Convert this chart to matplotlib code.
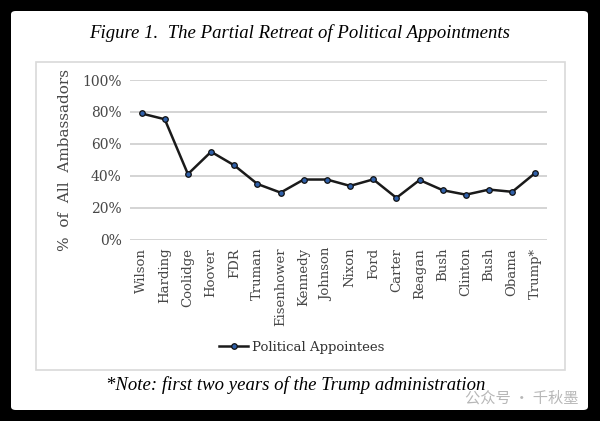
#!/usr/bin/env python3

# figure 1: share of political appointees among US ambassadors, by president

import matplotlib.pyplot as plt
from matplotlib.patches import FancyBboxPatch, Rectangle

# data
presidents = ['Wilson', 'Harding', 'Coolidge', 'Hoover', 'FDR', 'Truman',
              'Eisenhower', 'Kennedy', 'Johnson', 'Nixon', 'Ford', 'Carter',
              'Reagan', 'Bush', 'Clinton', 'Bush', 'Obama', 'Trump*']
political_share = [0.79, 0.754, 0.41, 0.55, 0.465, 0.348, 0.294, 0.376,
                   0.376, 0.336, 0.377, 0.261, 0.373, 0.309, 0.281, 0.313,
                   0.299, 0.418]
yticks = [0, 0.2, 0.4, 0.6, 0.8, 1.0]
ytick_labels = ['0%', '20%', '40%', '60%', '80%', '100%']

W, H = 600, 421
SERIF = 'DejaVu Serif'
TIMES = 'Liberation Serif'
GRAY = '#474747'

fig = plt.figure(figsize=(6, 4.21), dpi=100, facecolor='black')

def px(x, y):
    # pixel from top-left -> figure fraction
    return x / W, 1 - y / H

# white page with rounded corners
x0, y0 = px(11, 410)
x1, y1 = px(588, 11)
fig.patches.append(FancyBboxPatch((x0, y0), x1 - x0, y1 - y0,
                                  boxstyle='round,pad=0,rounding_size=0.008',
                                  transform=fig.transFigure, facecolor='white',
                                  edgecolor='none', zorder=-2))

# chart box
bx0, by0 = px(36, 370)
bx1, by1 = px(565, 62)
fig.patches.append(Rectangle((bx0, by0), bx1 - bx0, by1 - by0,
                             transform=fig.transFigure, facecolor='white',
                             edgecolor='#d9d9d9', linewidth=1.2, zorder=-1))

# plot area
ax_l, ax_b = px(130, 239.5)
ax_r, ax_t = px(547, 80)
ax = fig.add_axes([ax_l, ax_b, ax_r - ax_l, ax_t - ax_b])
ax.set_zorder(5)
ax.set_facecolor('none')

x = list(range(len(presidents)))
line, = ax.plot(x, political_share, color='#1a1a1a', linewidth=1.8,
                marker='o', markersize=4, markerfacecolor='#2f5fa8',
                markeredgecolor='#111111', markeredgewidth=0.9,
                label='Political Appointees', zorder=3)

ax.set_xlim(-0.5, len(presidents) - 0.5)
ax.set_ylim(0, 1)
ax.set_yticks(yticks)
ax.set_yticklabels(ytick_labels, fontfamily=SERIF, fontsize=10, color=GRAY)
ax.set_xticks(x)
ax.set_xticklabels(presidents, rotation=90, fontfamily=SERIF, fontsize=9.5,
                   color=GRAY)
ax.tick_params(length=0, pad=6)
ax.grid(axis='y', color='#d4d4d4', linewidth=1.4)
ax.set_axisbelow(True)
for s in ax.spines.values():
    s.set_visible(False)

ax.set_ylabel('%  of  All  Ambassadors', fontfamily=SERIF, fontsize=11,
              color=GRAY, labelpad=7)

# legend at the bottom of the chart box
leg = fig.legend(handles=[line], loc='center', bbox_to_anchor=px(302, 347),
                 frameon=False, prop={'family': SERIF, 'size': 9.5},
                 labelcolor='#333333', handlelength=2.2, handletextpad=0.3)
leg.set_zorder(6)

# title and note
tx, ty = px(300, 33)
fig.text(tx, ty, 'Figure 1.  The Partial Retreat of Political Appointments',
         ha='center', va='center', fontfamily=TIMES, fontstyle='italic',
         fontsize=13.5, color='#000000')
nx, ny = px(296, 385)
fig.text(nx, ny, '*Note: first two years of the Trump administration',
         ha='center', va='center', fontfamily=TIMES, fontstyle='italic',
         fontsize=13.5, color='#000000')

# watermark
wx, wy = px(522, 398)
fig.text(wx, wy, '公众号 · 千秋墨', ha='center', va='center',
         fontfamily=['Noto Sans CJK SC', 'DejaVu Sans'], fontsize=11,
         color='#b0b0b0', alpha=0.9)

fig.savefig('out.png', dpi=100, facecolor='black')
